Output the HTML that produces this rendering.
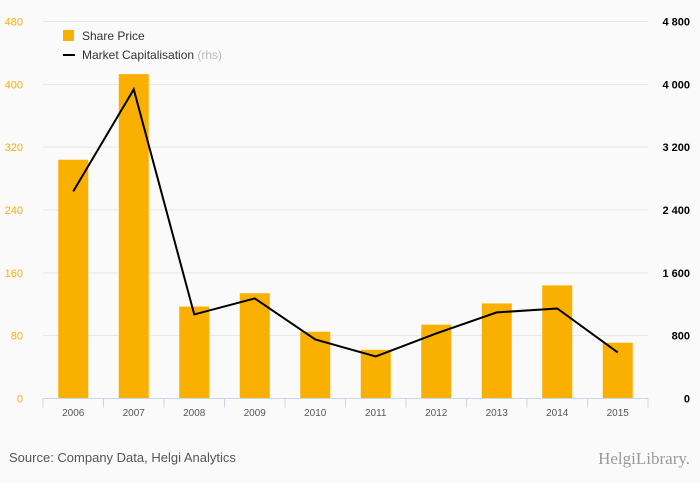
<!DOCTYPE html>
<html><head><meta charset="utf-8"><style>
body{margin:0;background:#fafafa;font-family:"Liberation Sans",sans-serif}
svg{display:block}
</style></head><body>
<svg id="c" width="700" height="483">
<rect x="0" y="0" width="700" height="483" fill="#fafafa"/>
<g id="grid"></g><g id="bars"></g><g id="axes"></g><g id="line"></g>
<g>
<rect x="63" y="30" width="11" height="11" fill="#f9b000"/>
<text x="82" y="40" font-size="12" fill="#333">Share Price</text>
<line x1="63" y1="55" x2="75" y2="55" stroke="#000" stroke-width="2"/>
<text x="82" y="59" font-size="12" fill="#333">Market Capitalisation <tspan fill="#bbb">(rhs)</tspan></text>
</g>
<text x="9" y="462" font-size="13" fill="#555">Source: Company Data, Helgi Analytics</text>
<text x="690" y="464" font-size="17" fill="#999" text-anchor="end" font-family="Liberation Serif,serif">HelgiLibrary.</text>
</svg>
<script>
const categories=["2006","2007","2008","2009","2010","2011","2012","2013","2014","2015"];
const sharePrice=[304,413,117,134,85,62,94,121,144,71];
const marketCap=[2637,3936,1070,1274,752,535,828,1096,1146,586];
const leftTicks=[0,80,160,240,320,400,480];
const rightTicks=["0","800","1 600","2 400","3 200","4 000","4 800"];
const NS="http://www.w3.org/2000/svg";
const x0=43,x1=648,yb=398.5,yt=21.5;
const step=(x1-x0)/categories.length;
const xc=i=>x0+step*(i+0.5);
const yL=v=>yb-(v/480)*(yb-yt);
const yR=v=>yb-(v/4800)*(yb-yt);
function mk(tag,attrs,parent){const e=document.createElementNS(NS,tag);for(const k in attrs)e.setAttribute(k,attrs[k]);document.getElementById(parent).appendChild(e);return e;}
leftTicks.forEach((t,i)=>{
  if(i>0){const g=mk("line",{x1:x0,x2:x1,y1:yL(t),y2:yL(t),stroke:"#e6e6e6"},"grid");
  
  }
  const l=mk("text",{x:23,y:yL(t)+4,"font-size":"11",fill:"#f9b000","text-anchor":"end"},"axes");l.textContent=t;
  
  
  const r=mk("text",{x:690,y:yL(t)+4,"font-size":"11",fill:"#000","font-weight":"bold","text-anchor":"end"},"axes");r.textContent=rightTicks[i];
  
  
});
categories.forEach((c,i)=>{
  const b=mk("rect",{x:xc(i)-15,y:yL(sharePrice[i]),width:30,height:yb-yL(sharePrice[i]),fill:"#f9b000"},"bars");
  
  
  const t=mk("text",{x:xc(i),y:416,"font-size":"10",fill:"#555","text-anchor":"middle"},"axes");t.textContent=c;
  
  
});
for(let i=0;i<=categories.length;i++){
  const tk=mk("line",{x1:x0+step*i,x2:x0+step*i,y1:yb,y2:yb+9,stroke:"#ccd6eb"},"axes");
  
  
}
const ax=mk("line",{x1:x0,x2:x1,y1:yb,y2:yb,stroke:"#ccd6eb"},"axes");


const p=mk("polyline",{points:marketCap.map((v,i)=>xc(i)+","+yR(v)).join(" "),fill:"none",stroke:"#000","stroke-width":"2"},"line");


</script>
</body></html>
